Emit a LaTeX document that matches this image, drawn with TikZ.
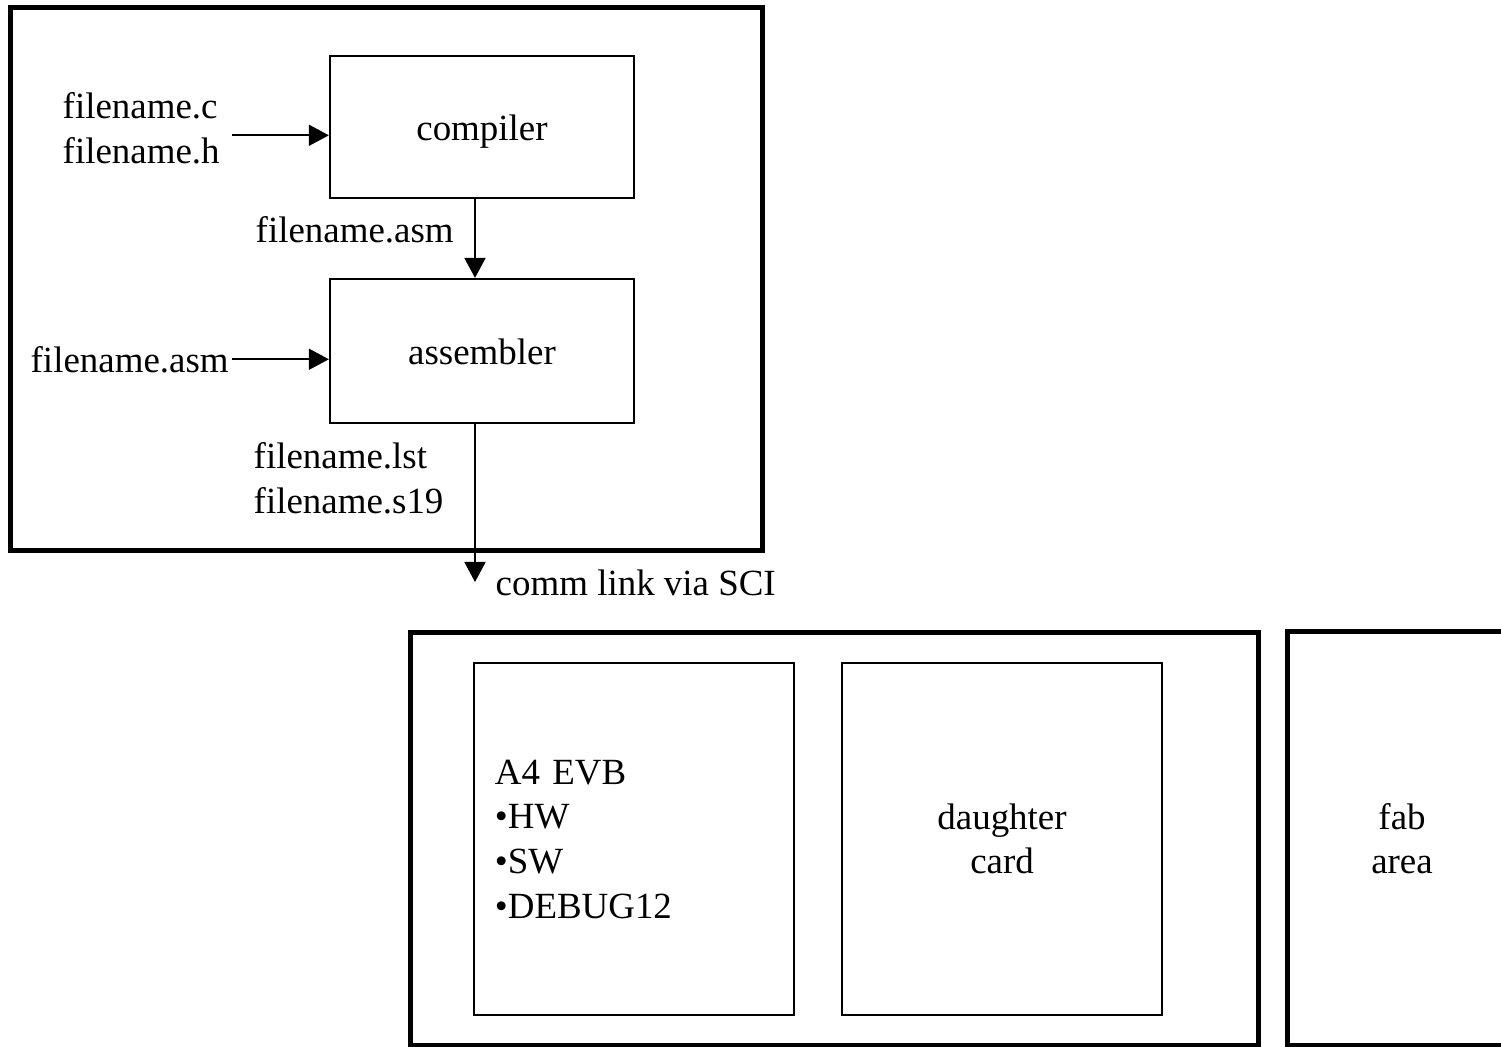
\documentclass[tikz,border=0pt]{standalone}
\usepackage{fontspec}
\setmainfont{Liberation Serif}
\usetikzlibrary{arrows.meta,positioning}

\tikzset{
	box/.style={draw,line width=0.6pt,minimum width=3.04cm,inner sep=0pt},
	stage/.style={box,text height=0.74em,text depth=0pt},
	frame/.style={line width=1.42pt},
	arr/.style={line width=0.5pt,-{Triangle[length=0.2cm,width=0.21cm]}},
	lbl/.style={inner sep=0pt,align=left},
}

\begin{document}
\begin{tikzpicture}[x=0.01cm,y=-0.01cm,font=\fontsize{10.5pt}{12.7pt}\selectfont]
	\useasboundingbox (0,0) rectangle (1501,1046);
	\clip (0,0) rectangle (1501,1046);

	%host side
	\draw[frame] (10.5,7.5) rectangle (762.5,550);
	\node[stage,minimum height=1.42cm] (compiler) at (482,127) {compiler};
	\node[stage,minimum height=1.44cm] (assembler) at (482,351) {assembler};

	\node[lbl,anchor=north west] (src) at (62,92) {filename.c\\filename.h};
	\node[lbl,anchor=base west] (asmin) at (30,372) {filename.asm};
	\node[lbl,anchor=base west] (asmout) at (255,243) {filename.asm};
	\node[lbl,anchor=north west] (objout) at (253,442) {filename.lst\\filename.s19};
	\node[lbl,anchor=base west] (link) at (495,595) {comm link via SCI};

	%arrow ends
	\coordinate (srcout) at ([shift={(0.12cm,-0.07cm)}]src.east);
	\coordinate (asmstart) at ([xshift=0.03cm]asmin.east);
	\coordinate (linkend) at (475,582);

	\draw[arr] (srcout) -- (srcout -| compiler.west);
	\draw[arr] (asmstart) -- (asmstart -| assembler.west);
	\draw[arr] ([xshift=-0.07cm]compiler.south) -- ([xshift=-0.07cm]assembler.north);
	\draw[arr] ([xshift=-0.07cm]assembler.south) -- (linkend);

	%target side
	\draw[frame] (410.5,632) rectangle (1258.5,1045);
	\node[box,minimum width=3.2cm,minimum height=3.52cm,text width=2.78cm,inner xsep=0.21cm,align=left] (evb) at (634,839) {A4 EVB\\•HW\\•SW\\•DEBUG12};
	\node[box,minimum width=3.2cm,minimum height=3.52cm,align=center] (daughter) at (1002,839) {daughter\\card};
	\node[draw,frame,minimum width=2.28cm,minimum height=4.13cm,align=center] (fab) at (1402,838.5) {fab\\area};
\end{tikzpicture}
\end{document}
